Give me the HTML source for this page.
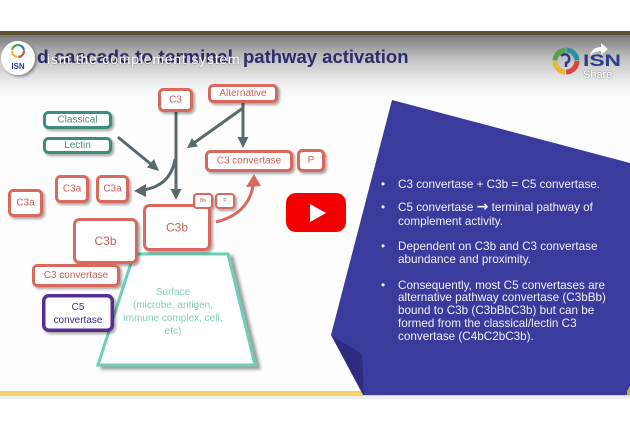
<!DOCTYPE html>
<html><head><meta charset="utf-8"><style>
html,body{margin:0;padding:0;background:#fff;width:630px;height:425px;overflow:hidden}
svg{display:block}
</style></head><body>
<svg width="630" height="425" viewBox="0 0 630 425" xmlns="http://www.w3.org/2000/svg" font-family="'Liberation Sans', sans-serif">
<defs>
<linearGradient id="hdr" x1="0" y1="0" x2="0" y2="1">
<stop offset="0" stop-color="#7a7a7a"/><stop offset="0.35" stop-color="#bdbdbd"/><stop offset="0.75" stop-color="#ececec"/><stop offset="1" stop-color="#fdfdfd"/>
</linearGradient>
<filter id="sh" x="-20%" y="-20%" width="150%" height="160%"><feDropShadow dx="2" dy="2" stdDeviation="1.2" flood-color="#000" flood-opacity="0.35"/></filter>
<filter id="sh2" x="-20%" y="-20%" width="150%" height="150%"><feDropShadow dx="4" dy="3" stdDeviation="1.5" flood-color="#000" flood-opacity="0.4"/></filter>
<filter id="tsh" x="-5%" y="-30%" width="110%" height="160%"><feDropShadow dx="0" dy="0" stdDeviation="0.8" flood-color="#000" flood-opacity="0.6"/></filter>
</defs>
<rect width="630" height="425" fill="#ffffff"/>
<rect x="0" y="31" width="630" height="365" fill="#fdfdfd"/>
<rect x="0" y="35" width="630" height="62" fill="url(#hdr)"/>
<rect x="0" y="31" width="630" height="4" fill="#5e5230"/>
<rect x="0" y="391" width="630" height="5" fill="#f6d266"/>
<rect x="0" y="396" width="630" height="3" fill="#efefef"/>

<!-- blue panel -->
<polygon points="392,100 630,163 630,395 363,395 331,335" fill="#3b3a9d"/>
<polygon points="331,335 362,354 364,395" fill="#2d2c80"/>
<polygon points="627,391 630,386 630,395 627,395" fill="#c8a84a"/>
<g fill="#f0f0f6" font-size="11.7">
<text x="381" y="188">•</text><text x="398" y="188">C3 convertase + C3b = C5 convertase.</text>
<text x="381" y="211">•</text><text x="398" y="211">C5 convertase <tspan font-weight="bold" font-size="14" font-family="'DejaVu Sans', sans-serif">→</tspan> terminal pathway of</text>
<text x="398" y="225">complement activity.</text>
<text x="381" y="250">•</text><text x="398" y="250">Dependent on C3b and C3 convertase</text>
<text x="398" y="263">abundance and proximity.</text>
<text x="381" y="289">•</text><text x="398" y="289">Consequently, most C5 convertases are</text>
<text x="398" y="301">alternative pathway convertase (C3bBb)</text>
<text x="398" y="314">bound to C3b (C3bBbC3b) but can be</text>
<text x="398" y="327">formed from the classical/lectin C3</text>
<text x="398" y="340">convertase (C4bC2bC3b).</text>
</g>

<!-- surface trapezoid -->
<polygon points="134,254 228,254 255,365 98,365" fill="#ffffff" stroke="#6dcfb6" stroke-width="3" filter="url(#sh2)"/>
<g fill="#7fcfbb" font-size="10" text-anchor="middle">
<text x="173" y="295">Surface</text>
<text x="173" y="308">(microbe, antigen,</text>
<text x="173" y="321">immune complex, cell,</text>
<text x="173" y="334">etc)</text>
</g>

<!-- gray arrows -->
<g stroke="#5a6a6c" stroke-width="3" fill="none" stroke-linecap="round">
<line x1="176" y1="112" x2="176" y2="191"/>
<line x1="243" y1="103" x2="243" y2="139"/>
<line x1="243" y1="108" x2="194" y2="143"/>
<line x1="119" y1="138" x2="152" y2="165"/>
<path d="M175 160 Q170 186 143 190"/>
</g>
<g fill="#5a6a6c">
<polygon points="176,200 170.5,189 181.5,189"/>
<polygon points="243,148 237.5,137 248.5,137"/>
<polygon points="187,148 192,138 198,146.5"/>
<polygon points="159,171 147,167.5 154,159"/>
<polygon points="134,191 146,184 146,197"/>
</g>

<!-- red curved arrow -->
<path d="M216 222 Q248 214 253 186" stroke="#d9695e" stroke-width="3" fill="none"/>
<polygon points="254,174 246,187 261,186" fill="#d9695e"/>

<!-- boxes -->
<g fill="#ffffff" stroke="#d9695e" stroke-width="3" filter="url(#sh)">
<rect x="159.5" y="89.5" width="32" height="21" rx="4"/>
<rect x="209.5" y="85.5" width="67" height="16" rx="4"/>
<rect x="206.5" y="151.5" width="85" height="19" rx="4"/>
<rect x="298.5" y="150.5" width="25" height="20" rx="4"/>
<rect x="56.5" y="176.5" width="31" height="25" rx="4"/>
<rect x="97.5" y="176.5" width="30" height="25" rx="4"/>
<rect x="9.5" y="190.5" width="32" height="25" rx="4"/>
<rect x="74.5" y="219.5" width="62" height="43" rx="5"/>
<rect x="144.5" y="205.5" width="65" height="44" rx="5"/>
<rect x="33.5" y="265.5" width="85" height="20" rx="4"/>
<rect x="194" y="194" width="18" height="14" rx="3" stroke-width="2"/>
<rect x="216" y="194" width="18" height="14" rx="3" stroke-width="2"/>
</g>
<g fill="#ffffff" stroke="#3e8c7c" stroke-width="3" filter="url(#sh)">
<rect x="44.5" y="112.5" width="66" height="15" rx="4"/>
<rect x="44.5" y="138.5" width="66" height="14" rx="4"/>
</g>
<rect x="43.75" y="295.75" width="68.5" height="34.5" rx="5" fill="#ffffff" stroke="#5a2d91" stroke-width="3.5" filter="url(#sh)"/>

<g fill="#c6615a" font-size="10" text-anchor="middle" dominant-baseline="central">
<text x="175.5" y="100">C3</text>
<text x="243" y="93.5">Alternative</text>
<text x="249" y="161">C3 convertase</text>
<text x="311" y="160.5">P</text>
<text x="72" y="189">C3a</text>
<text x="112.5" y="189">C3a</text>
<text x="25.5" y="203">C3a</text>
<text x="105.5" y="241" font-size="12">C3b</text>
<text x="177" y="227.5" font-size="12">C3b</text>
<text x="76" y="275.5">C3 convertase</text>
<text x="203" y="201" font-size="5">Bb</text>
<text x="225" y="201" font-size="5">P</text>
</g>
<g fill="#4d8d7e" font-size="10" text-anchor="middle" dominant-baseline="central">
<text x="77.5" y="120">Classical</text>
<text x="77.5" y="145.5">Lectin</text>
</g>
<g fill="#45297a" font-size="10" text-anchor="middle">
<text x="78" y="310">C5</text>
<text x="78" y="323">convertase</text>
</g>

<!-- youtube button -->
<rect x="286" y="193" width="60" height="39" rx="10" fill="#f40000"/>
<polygon points="310,204 310,222 326,213" fill="#ffffff"/>

<!-- title -->
<text x="37" y="63" font-size="18.5" font-weight="bold" fill="#2c2b6b" textLength="196" lengthAdjust="spacingAndGlyphs">d cascade to terminal</text>
<text x="243" y="63" font-size="18.5" font-weight="bold" fill="#2c2b6b">pathway activation</text>
<text x="47" y="64" font-size="14" letter-spacing="0.8" fill="#ffffff" filter="url(#tsh)">ism the complement system</text>

<!-- left ISN logo -->
<circle cx="18" cy="58" r="17" fill="#ffffff" filter="url(#sh)"/>
<g fill="none" stroke-width="2.2">
<circle cx="18" cy="51" r="6" stroke="#e04a3a" stroke-dasharray="9 29"/>
<circle cx="18" cy="51" r="6" stroke="#e8b830" stroke-dasharray="0 10 9 19"/>
<circle cx="18" cy="51" r="6" stroke="#5aa049" stroke-dasharray="0 20 9 9"/>
<circle cx="18" cy="51" r="6" stroke="#2a7fb0" stroke-dasharray="0 29 8 1"/>
</g>
<text x="18" y="69" font-size="8" font-weight="bold" fill="#2d3b8c" text-anchor="middle">ISN</text>

<!-- right ISN logo -->
<g fill="none" stroke-width="5">
<circle cx="566" cy="61" r="11" stroke="#d9453a" stroke-dasharray="17 52"/>
<circle cx="566" cy="61" r="11" stroke="#e8b830" stroke-dasharray="0 18 16 35"/>
<circle cx="566" cy="61" r="11" stroke="#5aa049" stroke-dasharray="0 35 16 18"/>
<circle cx="566" cy="61" r="11" stroke="#2a8fa0" stroke-dasharray="0 52 16 1"/>
</g>
<path d="M561 56 Q566 52 569 57 Q570 62 566 63 L566 67" stroke="#2d3b8c" stroke-width="2.5" fill="none"/>
<text x="583" y="66" font-size="17" font-weight="bold" fill="#2d3b8c" textLength="38" lengthAdjust="spacingAndGlyphs">ISN</text>
<path d="M590 56 Q592 47 601 47 L601 43 L608 49 L601 55 L601 51 Q594 51 590 56 Z" fill="#ffffff"/>
<text x="583" y="78" font-size="11" fill="#ffffff" filter="url(#tsh)">Share</text>
</svg>
</body></html>
